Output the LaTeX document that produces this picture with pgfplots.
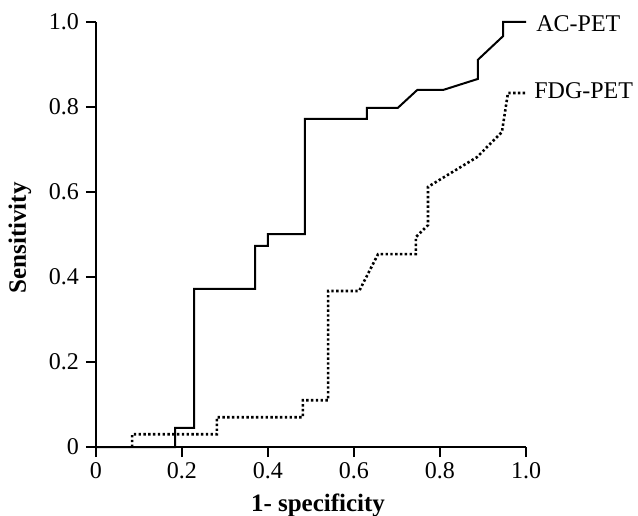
\documentclass[border=0pt]{standalone}
\usepackage{fontspec}
\setmainfont{Liberation Serif}
\usepackage{pgfplots}
\pgfplotsset{compat=1.18}
\begin{document}
\begin{tikzpicture}
\begin{axis}[
  name=ax, anchor=origin, at={(0,0)},
  scale only axis, width=215pt, height=212.5pt,
  xmin=0, xmax=1, ymin=0, ymax=1,
  axis lines=left, axis line style={-, line width=0.9pt},
  tick align=outside, major tick length=5pt,
  tick style={black, line width=0.6pt},
  xtick={0,0.2,0.4,0.6,0.8,1}, xticklabels={0,0.2,0.4,0.6,0.8,1.0},
  ytick={0,0.2,0.4,0.6,0.8,1}, yticklabels={0,0.2,0.4,0.6,0.8,1.0},
  ticklabel style={font=\fontsize{12}{14}\selectfont},
  xticklabel style={yshift=1pt},
  clip=false,
]
% AC-PET
\addplot[black, line width=1pt] coordinates {
  (0,0) (0.184,0) (0.184,0.045) (0.228,0.045) (0.228,0.372) (0.37,0.372)
  (0.37,0.473) (0.40,0.473) (0.40,0.501) (0.486,0.501) (0.486,0.772)
  (0.63,0.772) (0.63,0.798) (0.702,0.798) (0.747,0.84) (0.807,0.84)
  (0.888,0.866) (0.888,0.911) (0.947,0.967) (0.947,1.0) (1.0,1.0)};
% FDG-PET
\addplot[black, line width=1.3pt, dash pattern=on 1.2pt off 1.2pt] coordinates {
  (0.084,0) (0.084,0.03) (0.281,0.03) (0.281,0.07) (0.481,0.07) (0.481,0.11)
  (0.54,0.11) (0.54,0.367) (0.612,0.367) (0.656,0.454) (0.744,0.454)
  (0.744,0.494) (0.772,0.522) (0.772,0.612) (0.886,0.682) (0.944,0.741)
  (0.958,0.833) (1.0,0.833)};
\node[anchor=west, font=\fontsize{12}{14}\selectfont, inner sep=0pt] at (axis cs:1,1) [xshift=5pt, yshift=-1pt] {AC-PET};
\node[anchor=west, font=\fontsize{12}{14}\selectfont, inner sep=0pt] at (axis cs:1,0.833) [xshift=4pt, yshift=1pt] {FDG-PET};
\end{axis}
\node[font=\bfseries\fontsize{12.5}{14}\selectfont] at (111pt,-29pt) {1- specificity};
\node[font=\bfseries\fontsize{12.5}{14}\selectfont, rotate=90] at (-38pt,104.5pt) {Sensitivity};
\pgfresetboundingbox
\path (-48pt,-34pt) rectangle (271pt,223.5pt);
\end{tikzpicture}
\end{document}
